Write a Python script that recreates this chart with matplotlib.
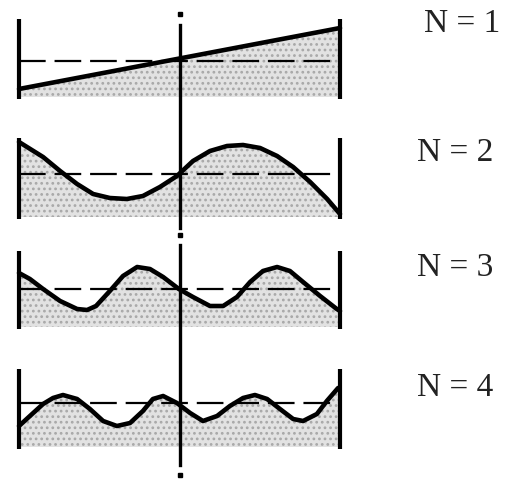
import matplotlib
matplotlib.use("Agg")
import matplotlib.pyplot as plt

# surface elevation (px, positive = up) read along the basin, x as fraction 0..1
mode1_x = [0.0, 1.0]
mode1_eta = [-28, 33]

mode2_x = [0.0, 0.075, 0.128, 0.181, 0.231, 0.283, 0.336, 0.386, 0.439, 0.492,
           0.542, 0.595, 0.648, 0.698, 0.751, 0.804, 0.854, 0.907, 0.96, 1.0]
mode2_eta = [32, 17, 3, -10, -20, -24, -25, -22, -13, -2,
             13, 23, 28, 29, 26, 18, 7, -8, -25, -40]

mode3_x = [0.0, 0.034, 0.075, 0.128, 0.181, 0.212, 0.24, 0.283, 0.324, 0.368,
           0.408, 0.449, 0.498, 0.542, 0.595, 0.636, 0.679, 0.72, 0.76, 0.804,
           0.844, 0.885, 0.938, 0.99, 1.0]
mode3_eta = [16, 10, 0, -12, -20, -21, -17, -2, 13, 22,
             20, 12, 0, -8, -17, -17, -8, 7, 18, 22,
             18, 7, -7, -20, -22]

mode4_x = [0.0, 0.034, 0.075, 0.106, 0.137, 0.181, 0.221, 0.262, 0.305, 0.346,
           0.386, 0.417, 0.449, 0.492, 0.533, 0.573, 0.617, 0.657, 0.698, 0.735,
           0.773, 0.813, 0.854, 0.885, 0.928, 0.959, 0.994]
mode4_eta = [-23, -13, -1, 5, 8, 4, -6, -18, -23, -20,
             -8, 4, 7, 0, -10, -18, -13, -3, 5, 8,
             4, -6, -16, -18, -11, 2, 15]

labels = ["N = 1", "N = 2", "N = 3", "N = 4"]

# layout in pixels
X_LEFT, X_RIGHT = 19, 340
X_MID = 180
panels = [  # (mean level, wall top, wall bottom, fill bottom)
    (62, 20, 100, 98),
    (175, 139, 220, 218),
    (290, 252, 330, 328),
    (404, 370, 450, 448),
]
label_pos = [(424, 24), (417, 153), (417, 268), (417, 388)]

plt.rcParams["hatch.linewidth"] = 1.2
plt.rcParams["hatch.color"] = "#a8a8a8"

fig = plt.figure(figsize=(5.17, 4.81), dpi=100)
ax = fig.add_axes([0, 0, 1, 1])
ax.set_xlim(0, 517)
ax.set_ylim(481, 0)
ax.axis("off")

modes = [(mode1_x, mode1_eta), (mode2_x, mode2_eta),
         (mode3_x, mode3_eta), (mode4_x, mode4_eta)]

for (xs, eta), (level, top, bottom, fbot), lab, (lx, ly) in zip(
        modes, panels, labels, label_pos):
    px = [X_LEFT + f * (X_RIGHT - X_LEFT) for f in xs]
    py = [level - e for e in eta]
    ax.fill_between(px, py, fbot, facecolor="#e2e2e2", edgecolor="#a8a8a8",
                    hatch="...", linewidth=0, zorder=1)
    ax.plot([X_LEFT, X_RIGHT], [level, level], color="black", lw=1.6,
            dashes=(12, 4), zorder=2)
    ax.plot(px, py, color="black", lw=3.3, solid_joinstyle="round",
            solid_capstyle="round", zorder=3)
    for wx in (X_LEFT, X_RIGHT):
        ax.plot([wx, wx], [top, bottom], color="black", lw=3.0,
                solid_capstyle="butt", zorder=4)
    ax.text(lx, ly, lab, fontsize=24, family="Liberation Serif",
            ha="left", va="center", color="#222222")

# centre line with dotted ends
ax.plot([X_MID, X_MID], [26, 229], color="black", lw=2.4, zorder=5)
ax.plot([X_MID, X_MID], [246, 466], color="black", lw=2.4, zorder=5)
ax.plot([X_MID] * 3, [15, 236, 476], "s", color="black", ms=2.8, zorder=5)

fig.savefig("out.png", dpi=100)
